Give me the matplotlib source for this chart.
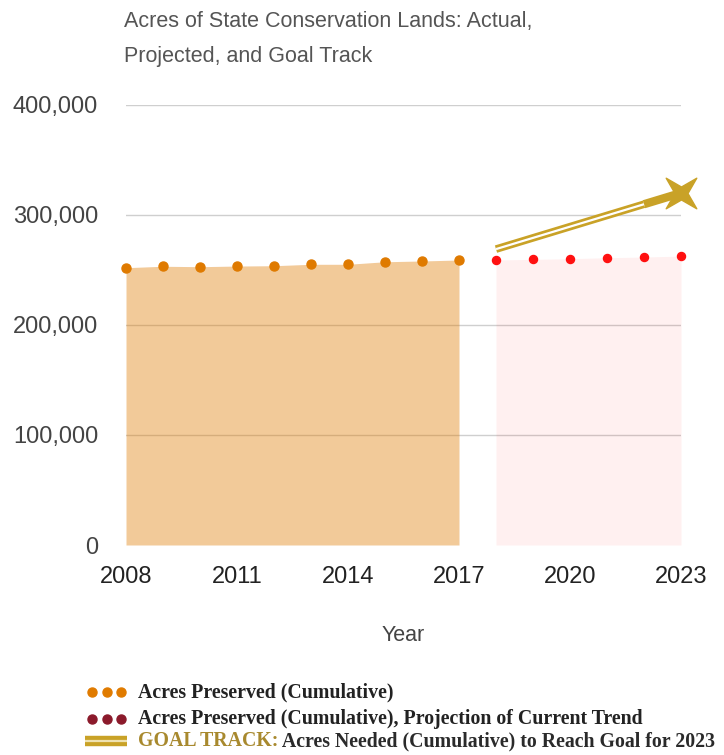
import matplotlib
matplotlib.use("Agg")
import matplotlib.pyplot as plt
from matplotlib.lines import Line2D
from matplotlib.path import Path
import numpy as np

# Cumulative acres preserved (actual)
actual_years = [2008, 2009, 2010, 2011, 2012, 2013, 2014, 2015, 2016, 2017]
actual_acres = [252100, 253400, 253000, 253600, 253900, 255200, 255200, 257500, 258200, 259100]

# Projection of the current trend
proj_years = [2018, 2019, 2020, 2021, 2022, 2023]
proj_acres = [259100, 259700, 260300, 261200, 261800, 262700]

# Goal track to 2023
goal_years = [2018, 2023]
goal_acres = [269000, 320000]

x_ticks = [2008, 2011, 2014, 2017, 2020, 2023]
y_ticks = [0, 100000, 200000, 300000, 400000]
y_tick_labels = ["0", "100,000", "200,000", "300,000", "400,000"]

title = "Acres of State Conservation Lands: Actual,\nProjected, and Goal Track"
legend_labels = [
    "Acres Preserved (Cumulative)",
    "Acres Preserved (Cumulative), Projection of Current Trend",
]
goal_prefix = "GOAL TRACK:"
goal_rest = " Acres Needed (Cumulative) to Reach Goal for 2023"

SANS = "Liberation Sans"
SERIF = "Liberation Serif"

W, H = 724, 755
fig = plt.figure(figsize=(W / 100, H / 100), dpi=100)
ax = fig.add_axes([126 / W, 1 - 545 / H, (681 - 126) / W, (545 - 105) / H])

ax.set_xlim(2008, 2023)
ax.set_ylim(0, 400000)

# gridlines
for v in y_ticks[1:]:
    ax.axhline(v, color="#cfcfcf", lw=1, zorder=0)

# actual series: translucent area + dots
ax.fill_between(actual_years, actual_acres, 0, color="#e07b00", alpha=0.4,
                lw=0, zorder=1)
ax.plot(actual_years, actual_acres, ls="none", marker="o", ms=6.5,
        color="#df7a00", zorder=3, clip_on=False)

# projection series: faint area + red dots
ax.fill_between(proj_years, proj_acres, 0, color="#ff0000", alpha=0.06,
                lw=0, zorder=1)
ax.plot(proj_years, proj_acres, ls="none", marker="o", ms=5.8,
        color="#ff1010", zorder=3, clip_on=False)

# thin four-pointed star marker
ang = np.deg2rad(np.arange(8) * 45 + 45)
rad = np.where(np.arange(8) % 2 == 0, 1.0, 0.3)
star_verts = np.column_stack([rad * np.cos(ang), rad * np.sin(ang)])
star_verts = np.vstack([star_verts, star_verts[:1]])
star = Path(star_verts, closed=True)

# goal track: double line ending in a solid head and a star
gold = "#c9a227"
gx = np.array(goal_years, dtype=float)
gy = np.array(goal_acres, dtype=float)
head_start = gx[0] + 0.8 * (gx[1] - gx[0])
head_y = np.interp(head_start, gx, gy)
ax.plot([gx[0], head_start], [gy[0], head_y], color=gold, lw=5.5,
        solid_capstyle="butt", zorder=4)
ax.plot([gx[0], head_start], [gy[0], head_y], color="white", lw=1.6,
        solid_capstyle="butt", zorder=5)
ax.plot([head_start, gx[1]], [head_y, gy[1]], color=gold, lw=6,
        solid_capstyle="butt", zorder=4)
ax.plot([gx[1]], [gy[1]], ls="none", marker=star, ms=22,
        color=gold, zorder=6, clip_on=False)

for s in ax.spines.values():
    s.set_visible(False)
ax.set_xticks(x_ticks)
ax.set_xticklabels([str(t) for t in x_ticks], fontsize=17, family=SANS,
                   color="#222222")
ax.set_yticks(y_ticks)
ax.set_yticklabels(y_tick_labels, fontsize=17, family=SANS, color="#444444")
ax.tick_params(axis="both", length=0)
ax.tick_params(axis="x", pad=15)
ax.tick_params(axis="y", pad=20)

ax.set_xlabel("Year", fontsize=15.5, family=SANS, color="#444444", labelpad=27)

fig.text(124 / W, 1 - 11 / H, title, ha="left", va="top", fontsize=15.5,
         family=SANS, color="#555555", linespacing=1.85)

# legend
rows_y = [692, 719, 741]
dot_colors = ["#e07b00", "#8b1a2b"]
LFS = 14.3
for ry, c, label in zip(rows_y[:2], dot_colors, legend_labels):
    yf = 1 - ry / H
    for dx in (92, 107, 121):
        fig.add_artist(Line2D([dx / W], [yf], marker="o", ms=6.5, ls="none",
                              color=c, transform=fig.transFigure))
    fig.text(138 / W, yf, label, ha="left", va="center", fontsize=LFS,
             family=SERIF, weight="bold", color="#222222")

yf = 1 - rows_y[2] / H
fig.add_artist(Line2D([85 / W, 127 / W], [yf, yf], lw=7.5, color=gold,
                      solid_capstyle="butt", transform=fig.transFigure))
fig.add_artist(Line2D([85 / W, 127 / W], [yf, yf], lw=1.6, color="#efe2b0",
                      solid_capstyle="butt", transform=fig.transFigure))
t1 = fig.text(138 / W, yf, goal_prefix, ha="left", va="center", fontsize=LFS,
              family=SERIF, weight="bold", color="#a8892e")
fig.canvas.draw()
bb = t1.get_window_extent()
fig.text(bb.x1 / W, yf, goal_rest, ha="left", va="center", fontsize=LFS,
         family=SERIF, weight="bold", color="#2a2a2a")

fig.savefig("out.png", dpi=100)
